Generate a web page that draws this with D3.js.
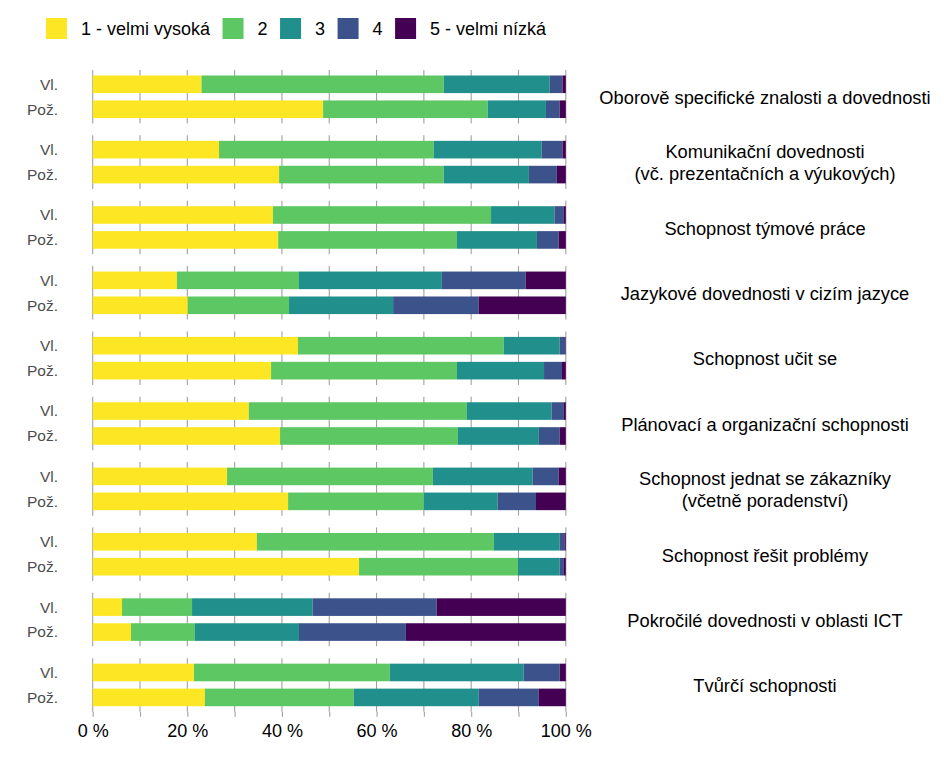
<!DOCTYPE html>
<html>
<head>
<meta charset="utf-8">
<script src="https://cdn.jsdelivr.net/npm/d3@7"></script>
<style>
  body { margin: 0; background: #fff; }
  svg { font-family: "Liberation Sans", Arial, sans-serif; }
</style>
</head>
<body>
<svg id="chart" width="944" height="767"></svg>
<script>
// categories (facets), top to bottom; "\n" splits a label into lines
const categories = [
  "Oborově specifické znalosti a dovednosti",
  "Komunikační dovednosti\n(vč. prezentačních a výukových)",
  "Schopnost týmové práce",
  "Jazykové dovednosti v cizím jazyce",
  "Schopnost učit se",
  "Plánovací a organizační schopnosti",
  "Schopnost jednat se zákazníky\n(včetně poradenství)",
  "Schopnost řešit problémy",
  "Pokročilé dovednosti v oblasti ICT",
  "Tvůrčí schopnosti"
];
const rows = ["Vl.", "Pož."];
const levels = ["1 - velmi vysoká", "2", "3", "4", "5 - velmi nízká"];
const colors = ["#FDE725", "#5DC863", "#21908C", "#3B528B", "#440154"];

// percentages per level (1..5) for each category
const vlastni = [
  [23.0, 51.2, 22.4, 2.7, 0.7],
  [26.7, 45.4, 22.8, 4.4, 0.7],
  [38.1, 46.1, 13.4, 2.0, 0.4],
  [17.8, 25.8, 30.2, 17.7, 8.5],
  [43.4, 43.5, 11.8, 1.2, 0.1],
  [33.0, 46.1, 17.9, 2.6, 0.4],
  [28.4, 43.5, 21.1, 5.5, 1.5],
  [34.7, 50.1, 13.9, 1.0, 0.3],
  [6.2, 14.8, 25.5, 26.2, 27.3],
  [21.4, 41.4, 28.3, 7.6, 1.3]
];
const pozadovane = [
  [48.7, 34.8, 12.3, 2.9, 1.3],
  [39.4, 34.8, 18.0, 5.9, 1.9],
  [39.2, 37.8, 16.9, 4.6, 1.5],
  [20.1, 21.4, 22.0, 18.1, 18.4],
  [37.7, 39.3, 18.4, 3.8, 0.8],
  [39.6, 37.6, 17.1, 4.4, 1.3],
  [41.3, 28.7, 15.6, 8.1, 6.3],
  [56.3, 33.6, 8.8, 0.9, 0.4],
  [8.1, 13.5, 22.0, 22.6, 33.8],
  [23.7, 31.5, 26.4, 12.7, 5.7]
];
const xTicks = [0, 20, 40, 60, 80, 100];
const gridTicks = [0, 10, 20, 30, 40, 50, 60, 70, 80, 90, 100];

const svg = d3.select("#chart");
const color = d3.scaleOrdinal().domain(levels).range(colors);

const x = d3.scaleLinear().domain([0, 100]).range([92.7, 565.8]);
const panel = d3.scaleBand().domain(categories).range([70, 711.7]).paddingInner(0.181);
const row = d3.scaleBand().domain(rows).range([0, panel.bandwidth()])
  .paddingInner(0.294).paddingOuter(0.22);

// stacked data
const table = [];
categories.forEach((c, i) => {
  [vlastni[i], pozadovane[i]].forEach((vals, r) => {
    const o = { cat: c, row: rows[r] };
    levels.forEach((l, j) => o[l] = vals[j]);
    table.push(o);
  });
});
const series = d3.stack().keys(levels)(table);

// panels: grid lines
const panels = svg.append("g").selectAll("g").data(categories).join("g")
  .attr("transform", d => `translate(0,${panel(d)})`);

panels.selectAll("line").data(gridTicks).join("line")
  .attr("x1", d => x(d)).attr("x2", d => x(d))
  .attr("y1", 0).attr("y2", panel.bandwidth())
  .attr("stroke", "#a0a0a0").attr("stroke-width", 1.1);

// bars
svg.append("g").selectAll("g").data(series).join("g")
  .attr("fill", d => color(d.key))
  .selectAll("rect").data(d => d).join("rect")
  .attr("x", d => x(d[0]))
  .attr("width", d => x(d[1]) - x(d[0]))
  .attr("y", d => panel(d.data.cat) + row(d.data.row))
  .attr("height", row.bandwidth());

// row labels
panels.selectAll("text.row").data(rows).join("text")
  .attr("class", "row")
  .attr("x", 58)
  .attr("y", d => row(d) + row.bandwidth() / 2)
  .attr("dy", "0.35em")
  .attr("text-anchor", "end")
  .attr("font-size", 15.5)
  .attr("fill", "#4d4d4d")
  .text(d => d);

// facet labels on the right
panels.append("text")
  .attr("x", 765)
  .attr("text-anchor", "middle")
  .attr("font-size", 18.3)
  .attr("fill", "#000")
  .each(function(d) {
    const lines = d.split("\n");
    const mid = panel.bandwidth() / 2;
    d3.select(this).selectAll("tspan").data(lines).join("tspan")
      .attr("x", 765)
      .attr("y", (l, i) => mid + (i - (lines.length - 1) / 2) * 22)
      .attr("dy", "0.4em")
      .text(l => l);
  });

// x axis
const axis = svg.append("g")
  .attr("transform", `translate(0,${panel.range()[1]})`)
  .call(d3.axisBottom(x).tickValues(gridTicks).tickSize(5)
    .tickFormat(d => xTicks.includes(d) ? d + " %" : ""));
axis.select(".domain").remove();
axis.selectAll(".tick line").attr("stroke", "#a0a0a0").attr("stroke-width", 1.1);
axis.selectAll(".tick text")
  .attr("font-family", "Liberation Sans, Arial, sans-serif")
  .attr("font-size", 18).attr("fill", "#000").attr("y", 13);

// legend
const legend = svg.append("g").attr("transform", "translate(46,18)");
let lx = 0;
levels.forEach(l => {
  legend.append("rect").attr("x", lx).attr("y", 0).attr("width", 21).attr("height", 21)
    .attr("fill", color(l));
  const t = legend.append("text").attr("x", lx + 35).attr("y", 10.5).attr("dy", "0.35em")
    .attr("font-size", 18).attr("fill", "#000").text(l);
  lx += 35 + t.node().getComputedTextLength() + 12.5;
});
</script>
</body>
</html>
